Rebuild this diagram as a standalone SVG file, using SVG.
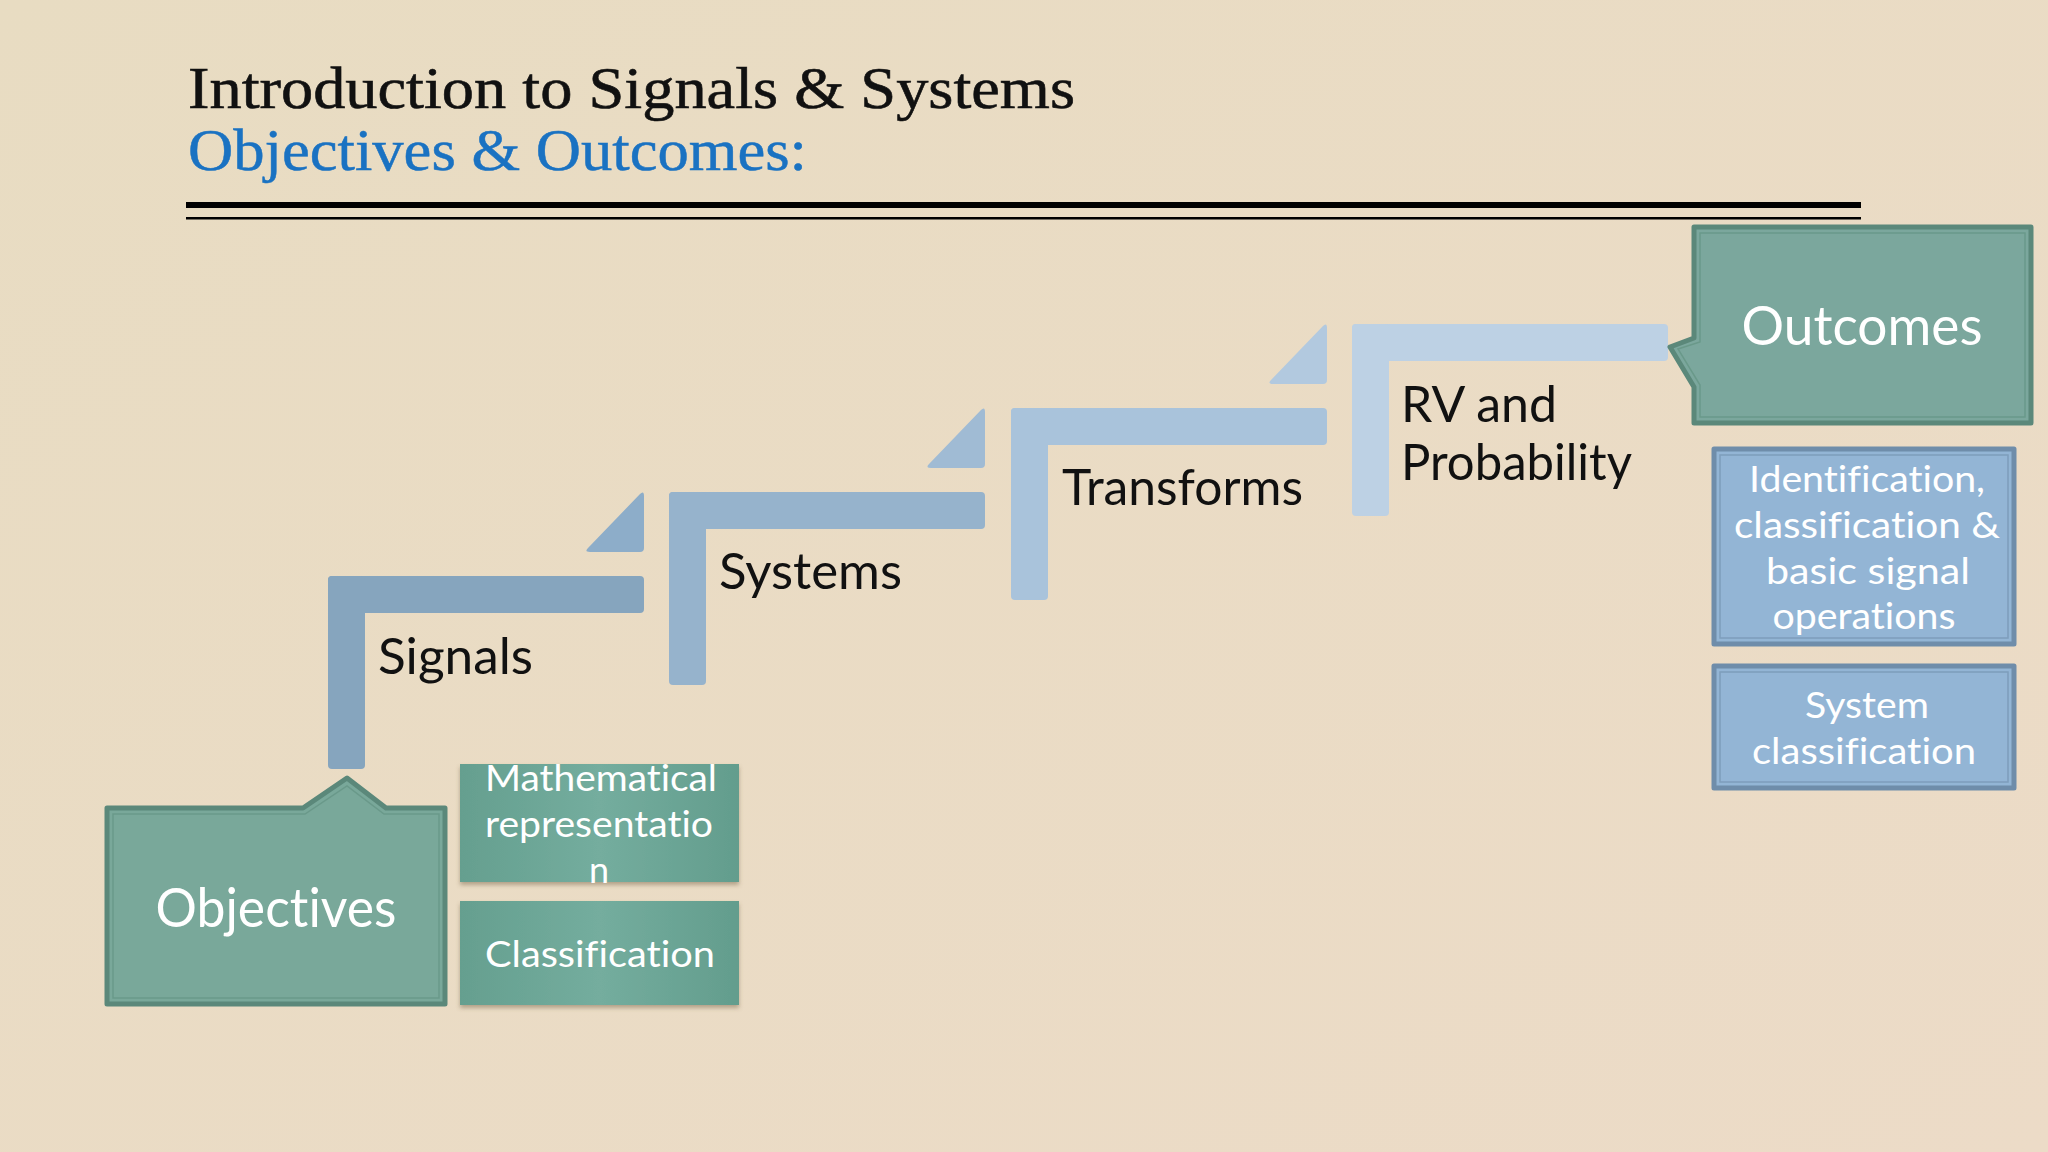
<svg xmlns="http://www.w3.org/2000/svg" width="2048" height="1152" viewBox="0 0 2048 1152">
  <defs>
    <linearGradient id="bg" x1="0" y1="0" x2="1" y2="1">
      <stop offset="0" stop-color="#E8DCC2"/>
      <stop offset="1" stop-color="#ECDBC7"/>
    </linearGradient>
    <linearGradient id="tealSoft" x1="0" y1="0" x2="1" y2="0">
      <stop offset="0" stop-color="#659F8F"/>
      <stop offset="0.5" stop-color="#74AD9E"/>
      <stop offset="1" stop-color="#639D8D"/>
    </linearGradient>
    <filter id="shadow" x="-10%" y="-10%" width="120%" height="130%">
      <feDropShadow dx="0" dy="3" stdDeviation="2" flood-color="#6B5A40" flood-opacity="0.45"/>
    </filter>
    <style>
      text { font-variant-ligatures: none; font-feature-settings: "liga" 0, "dlig" 0; }
      .serif { font-family: "Liberation Serif", "DejaVu Serif", serif; }
      .sans { font-family: Lato, "Open Sans", "Liberation Sans", sans-serif; }
      .step-label { font-size: 51px; fill: #111111; }
      .big-white { font-size: 55px; fill: #FFFFFF; text-anchor: middle; }
      .small-white { font-size: 36px; fill: #FFFFFF; text-anchor: middle; }
      .teal-box { fill: #79A89A; stroke: #5B887A; stroke-width: 5; stroke-linejoin: round; }
      .teal-inner { fill: none; stroke: #6A998A; stroke-width: 1.5; }
      .blue-box { fill: #93B5D5; stroke: #6F8DAA; stroke-width: 5; stroke-linejoin: round; }
      .blue-inner { fill: none; stroke: #7E9DBB; stroke-width: 1.5; }
      .soft-box { fill: url(#tealSoft); filter: url(#shadow); }
    </style>
  </defs>

  <rect x="0" y="0" width="2048" height="1152" fill="url(#bg)"/>

  <g id="title">
    <text class="serif" x="188" y="108" font-size="60" fill="#111111" stroke="#111111" stroke-width="0.6" textLength="887" lengthAdjust="spacingAndGlyphs">Introduction to Signals &amp; Systems</text>
    <text class="serif" x="188" y="170" font-size="60" fill="#1A72C2" stroke="#1A72C2" stroke-width="0.5" textLength="619" lengthAdjust="spacingAndGlyphs">Objectives &amp; Outcomes:</text>
    <rect x="186" y="202" width="1675" height="6" fill="#000000"/>
    <rect x="186" y="217" width="1675" height="2.5" fill="#000000"/>
  </g>

  <g id="step-signals">
    <rect x="328" y="576" width="316" height="37" rx="4" fill="#86A5BE"/>
    <rect x="328" y="576" width="37" height="193" rx="4" fill="#86A5BE"/>
    <text class="sans step-label" x="378" y="674" textLength="155" lengthAdjust="spacingAndGlyphs">Signals</text>
  </g>
  <g id="step-systems">
    <rect x="669" y="492" width="316" height="37" rx="4" fill="#96B3CC"/>
    <rect x="669" y="492" width="37" height="193" rx="4" fill="#96B3CC"/>
    <text class="sans step-label" x="719" y="589" textLength="183" lengthAdjust="spacingAndGlyphs">Systems</text>
  </g>
  <g id="step-transforms">
    <rect x="1011" y="408" width="316" height="37" rx="4" fill="#A9C3DB"/>
    <rect x="1011" y="408" width="37" height="192" rx="4" fill="#A9C3DB"/>
    <text class="sans step-label" x="1062" y="505" textLength="241" lengthAdjust="spacingAndGlyphs">Transforms</text>
  </g>
  <g id="step-rv">
    <rect x="1352" y="324" width="316" height="37" rx="4" fill="#BDD1E4"/>
    <rect x="1352" y="324" width="37" height="192" rx="4" fill="#BDD1E4"/>
    <text class="sans step-label" x="1401" y="422" textLength="156" lengthAdjust="spacingAndGlyphs">RV and</text>
    <text class="sans step-label" x="1401" y="480" textLength="231" lengthAdjust="spacingAndGlyphs">Probability</text>
  </g>

  <g id="connectors">
    <path d="M644,496 Q644,490 640,494 L588,548 Q584,552 590,552 L640,552 Q644,552 644,548 Z" fill="#8DADC9"/>
    <path d="M985,412 Q985,406 981,410 L929,464 Q925,468 931,468 L981,468 Q985,468 985,464 Z" fill="#A0BBD4"/>
    <path d="M1327,328 Q1327,322 1323,326 L1271,380 Q1267,384 1273,384 L1323,384 Q1327,384 1327,380 Z" fill="#B2C9DF"/>
  </g>

  <g id="objectives">
    <path class="teal-box" d="M107,808 H303 L347,778 L386,808 H445 V1004 H107 Z"/>
    <path class="teal-inner" d="M113,814 H305 L347,786 L384,814 H439 V998 H113 Z"/>
    <text class="sans big-white" x="276" y="927" textLength="241" lengthAdjust="spacingAndGlyphs">Objectives</text>
  </g>

  <g id="math-rep">
    <rect class="soft-box" x="460" y="764" width="279" height="118"/>
    <text class="sans small-white" x="601" y="791" textLength="232" lengthAdjust="spacingAndGlyphs">Mathematical</text>
    <text class="sans small-white" x="599" y="837" textLength="228" lengthAdjust="spacingAndGlyphs">representatio</text>
    <text class="sans small-white" x="599" y="883">n</text>
  </g>

  <g id="classification">
    <rect class="soft-box" x="460" y="901" width="279" height="104"/>
    <text class="sans small-white" x="600" y="967" textLength="230" lengthAdjust="spacingAndGlyphs">Classification</text>
  </g>

  <g id="outcomes">
    <path class="teal-box" style="fill:#7BA79D" d="M1694,227 H2031 V423 H1694 V387 L1670,347 L1694,338 Z"/>
    <path class="teal-inner" d="M1700,233 H2025 V417 H1700 V385 L1678,349 L1700,342 Z"/>
    <text class="sans big-white" x="1862" y="345" textLength="241" lengthAdjust="spacingAndGlyphs">Outcomes</text>
  </g>

  <g id="identification">
    <rect class="blue-box" x="1714" y="449" width="300" height="195"/>
    <rect class="blue-inner" x="1720" y="455" width="288" height="183"/>
    <text class="sans small-white" x="1867" y="492" textLength="236" lengthAdjust="spacingAndGlyphs">Identification,</text>
    <text class="sans small-white" x="1867" y="538" textLength="266" lengthAdjust="spacingAndGlyphs">classification &amp;</text>
    <text class="sans small-white" x="1868" y="584" textLength="204" lengthAdjust="spacingAndGlyphs">basic signal</text>
    <text class="sans small-white" x="1864" y="629" textLength="183" lengthAdjust="spacingAndGlyphs">operations</text>
  </g>

  <g id="system-classification">
    <rect class="blue-box" x="1714" y="666" width="300" height="122"/>
    <rect class="blue-inner" x="1720" y="672" width="288" height="110"/>
    <text class="sans small-white" x="1867" y="718" textLength="124" lengthAdjust="spacingAndGlyphs">System</text>
    <text class="sans small-white" x="1864" y="764" textLength="224" lengthAdjust="spacingAndGlyphs">classification</text>
  </g>
</svg>
